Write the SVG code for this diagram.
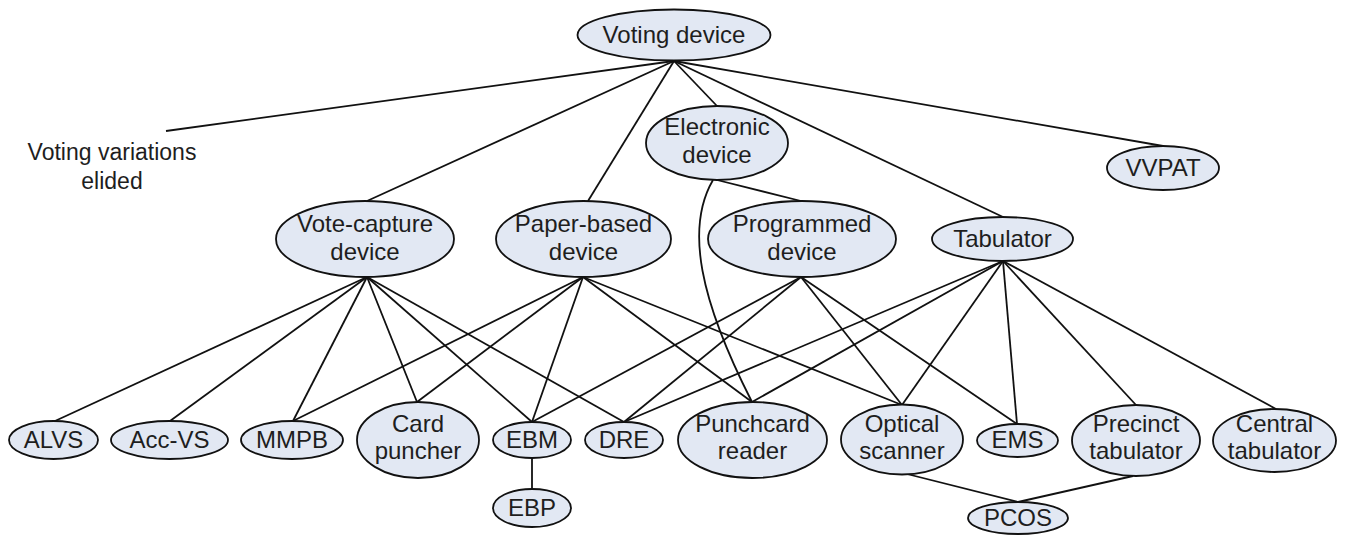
<svg xmlns="http://www.w3.org/2000/svg" width="1345" height="536" viewBox="0 0 1345 536">
<style>
.n ellipse{fill:#e2e8f3;stroke:#111;stroke-width:1.8}
text{font-family:"Liberation Sans",Arial,sans-serif;font-size:24px;fill:#1e1e1e;text-anchor:middle}
.free{font-size:23px}
#connectors line,#connectors path{stroke:#111;stroke-width:1.8;fill:none}
</style>
<rect width="1345" height="536" fill="#fff"/>
<g id="connectors">
<line x1="674" y1="61" x2="166" y2="131"/>
<line x1="674" y1="61" x2="367" y2="201"/>
<line x1="674" y1="61" x2="588" y2="201"/>
<line x1="674" y1="61" x2="717" y2="106"/>
<line x1="674" y1="61" x2="1003" y2="217"/>
<line x1="674" y1="61" x2="1163" y2="146"/>
<line x1="717" y1="180" x2="801" y2="201"/>
<path d="M713,180 C685,228 700,300 752,402"/>
<line x1="367" y1="277" x2="55" y2="421"/>
<line x1="367" y1="277" x2="170" y2="421"/>
<line x1="367" y1="277" x2="293" y2="421"/>
<line x1="367" y1="277" x2="417" y2="402"/>
<line x1="367" y1="277" x2="532" y2="422"/>
<line x1="367" y1="277" x2="624" y2="422"/>
<line x1="583" y1="277" x2="293" y2="421"/>
<line x1="583" y1="277" x2="417" y2="402"/>
<line x1="583" y1="277" x2="532" y2="422"/>
<line x1="583" y1="277" x2="752" y2="402"/>
<line x1="583" y1="277" x2="902" y2="405"/>
<line x1="801" y1="277" x2="532" y2="422"/>
<line x1="801" y1="277" x2="624" y2="422"/>
<line x1="801" y1="277" x2="902" y2="405"/>
<line x1="801" y1="277" x2="1017" y2="424"/>
<line x1="1003" y1="261" x2="624" y2="422"/>
<line x1="1003" y1="261" x2="752" y2="402"/>
<line x1="1003" y1="261" x2="902" y2="405"/>
<line x1="1003" y1="261" x2="1017" y2="424"/>
<line x1="1003" y1="261" x2="1136" y2="405"/>
<line x1="1003" y1="261" x2="1276" y2="409"/>
<line x1="532" y1="458" x2="532" y2="489"/>
<line x1="903" y1="473" x2="1018" y2="502"/>
<line x1="1133" y1="476" x2="1018" y2="502"/>
</g>
<g id="voting-variations"><text class="free" x="112" y="160">Voting variations</text><text class="free" x="112" y="189">elided</text></g>
<g id="voting-device" class="n"><ellipse cx="674" cy="35" rx="96.5" ry="25.5"/><text x="674" y="43">Voting device</text></g>
<g id="electronic-device" class="n"><ellipse cx="717" cy="143" rx="71" ry="37"/><text x="717" y="135">Electronic</text><text x="717" y="163">device</text></g>
<g id="vvpat" class="n"><ellipse cx="1163" cy="168" rx="56" ry="22"/><text x="1163" y="176">VVPAT</text></g>
<g id="vote-capture-device" class="n"><ellipse cx="365" cy="239" rx="89" ry="38"/><text x="365" y="232">Vote-capture</text><text x="365" y="260">device</text></g>
<g id="paper-based-device" class="n"><ellipse cx="583.5" cy="239" rx="87.5" ry="38"/><text x="583.5" y="232">Paper-based</text><text x="583.5" y="260">device</text></g>
<g id="programmed-device" class="n"><ellipse cx="802" cy="239" rx="94" ry="38"/><text x="802" y="232">Programmed</text><text x="802" y="260">device</text></g>
<g id="tabulator" class="n"><ellipse cx="1002.5" cy="239" rx="70.5" ry="22"/><text x="1002.5" y="247">Tabulator</text></g>
<g id="alvs" class="n"><ellipse cx="53.5" cy="440" rx="44.5" ry="19"/><text x="53.5" y="448">ALVS</text></g>
<g id="acc-vs" class="n"><ellipse cx="169.5" cy="440" rx="58.5" ry="19"/><text x="169.5" y="448">Acc-VS</text></g>
<g id="mmpb" class="n"><ellipse cx="292" cy="440" rx="51" ry="19"/><text x="292" y="448">MMPB</text></g>
<g id="card-puncher" class="n"><ellipse cx="418" cy="440" rx="61" ry="38"/><text x="418" y="432">Card</text><text x="418" y="459">puncher</text></g>
<g id="ebm" class="n"><ellipse cx="532" cy="440" rx="39" ry="18"/><text x="532" y="448">EBM</text></g>
<g id="ebp" class="n"><ellipse cx="532" cy="508" rx="39" ry="19"/><text x="532" y="516">EBP</text></g>
<g id="dre" class="n"><ellipse cx="624" cy="440" rx="39" ry="18"/><text x="624" y="448">DRE</text></g>
<g id="punchcard-reader" class="n"><ellipse cx="752.5" cy="440" rx="74.5" ry="38"/><text x="752.5" y="432">Punchcard</text><text x="752.5" y="459">reader</text></g>
<g id="optical-scanner" class="n"><ellipse cx="902" cy="439.5" rx="61" ry="35"/><text x="902" y="432">Optical</text><text x="902" y="459">scanner</text></g>
<g id="ems" class="n"><ellipse cx="1017.5" cy="440.5" rx="40.5" ry="16.5"/><text x="1017.5" y="448">EMS</text></g>
<g id="precinct-tabulator" class="n"><ellipse cx="1136" cy="440.5" rx="64" ry="35.5"/><text x="1136" y="432">Precinct</text><text x="1136" y="459">tabulator</text></g>
<g id="central-tabulator" class="n"><ellipse cx="1274.5" cy="440.5" rx="61.5" ry="31.5"/><text x="1274.5" y="432">Central</text><text x="1274.5" y="459">tabulator</text></g>
<g id="pcos" class="n"><ellipse cx="1018" cy="518" rx="50" ry="16"/><text x="1018" y="526">PCOS</text></g>
</svg>
